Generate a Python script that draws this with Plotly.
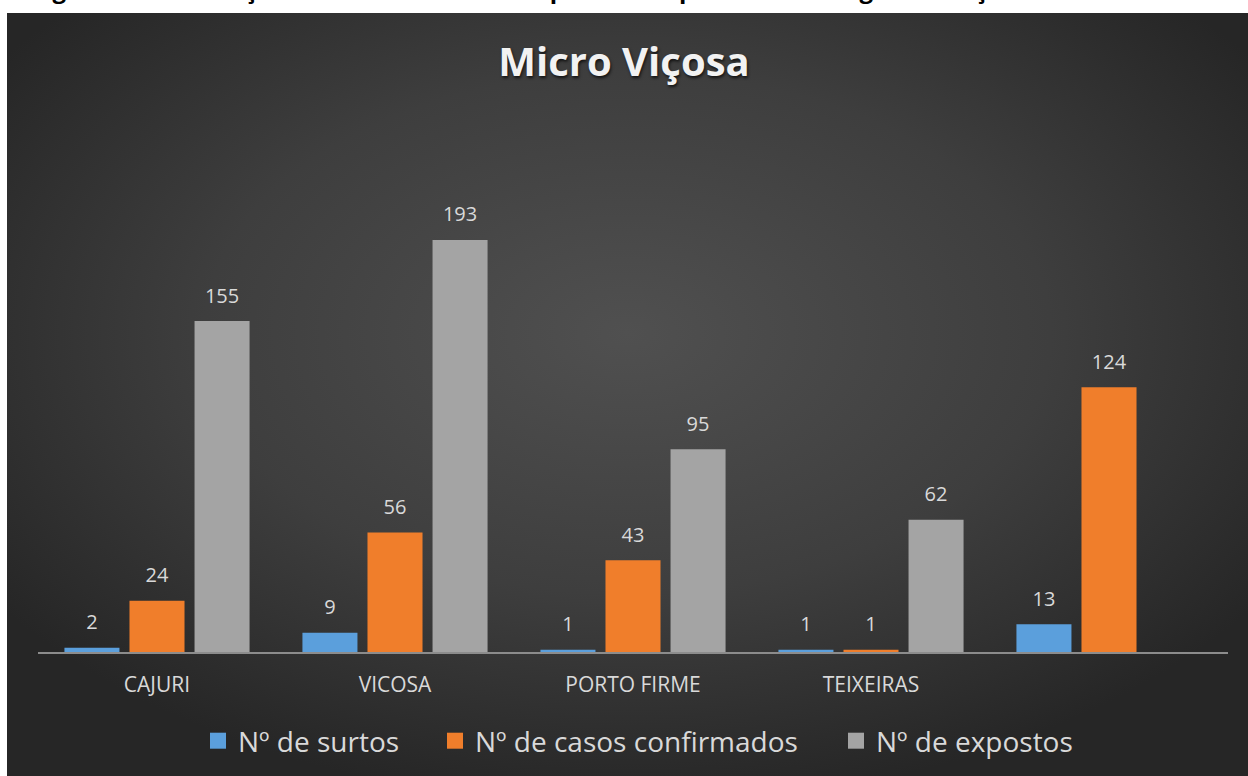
import base64
import plotly.graph_objects as go

# ---- data ----
categories = ["CAJURI", "VICOSA", "PORTO FIRME", "TEIXEIRAS", "TOTAL"]
tick_labels = ["CAJURI", "VICOSA", "PORTO FIRME", "TEIXEIRAS", ""]
surtos = [2, 9, 1, 1, 13]
casos = [24, 56, 43, 1, 124]
expostos = [155, 193, 95, 62, None]
series_names = ["Nº de surtos", "Nº de casos confirmados", "Nº de expostos"]

chart_title = "Micro Viçosa"
caption = "Figura 4: Distribuição de surtos notificados por município na micro região de Viçosa"

colors = ["#5b9fdc", "#f07e2b", "#a4a4a4"]
label_color = "#d9d9d9"

W, H = 1248, 776
L, R, T, B = 38, 20, 120, 124
plot_w = W - L - R
plot_h = H - T - B
y_max = 249.2

legend_ids = ["legend", "legend2", "legend3"]
legend_left_px = [198, 435, 836]

fig = go.Figure()

series = [surtos, casos, expostos]
for name, vals, col in zip(series_names, series, colors):
    fig.add_trace(go.Bar(
        x=categories, y=vals, name=name,
        marker=dict(color=col, line=dict(width=0)),
        hoverinfo="x+y+name", showlegend=False,
    ))

for name, vals, col in zip(series_names, series, colors):
    fig.add_trace(go.Scatter(
        x=categories, y=vals, mode="markers+text",
        text=[("" if v is None else str(v)) for v in vals],
        textposition="top center",
        textfont=dict(family="Open Sans", size=20, color=label_color),
        marker=dict(size=20, opacity=0, color=col),
        showlegend=False, hoverinfo="skip", cliponaxis=False,
    ))

# legend entries (bigger square swatches) on a hidden overlay axis
for name, col, lg in zip(series_names, colors, legend_ids):
    fig.add_trace(go.Scatter(
        x=[None], y=[None], mode="markers", name=name,
        marker=dict(symbol="square", size=16, color=col),
        xaxis="x2", yaxis="y2", showlegend=True, legend=lg,
    ))

# radial gradient background as svg image
svg = (
    '<svg xmlns="http://www.w3.org/2000/svg" width="1241" height="763" '
    'viewBox="0 0 1241 763" preserveAspectRatio="none">'
    '<defs><radialGradient id="g" cx="50%" cy="42%" r="62%">'
    '<stop offset="0" stop-color="rgb(80,80,80)"/>'
    '<stop offset="0.55" stop-color="rgb(62,62,62)"/>'
    '<stop offset="1" stop-color="rgb(38,38,38)"/>'
    '</radialGradient></defs>'
    '<rect width="1241" height="763" fill="url(#g)"/></svg>'
)
src = "data:image/svg+xml;base64," + base64.b64encode(svg.encode()).decode()

def px_to_paper_x(px):
    return (px - L) / plot_w

def px_to_paper_y(py):
    return (H - B - py) / plot_h

fig.add_layout_image(dict(
    source=src, xref="paper", yref="paper",
    x=px_to_paper_x(7), y=px_to_paper_y(13),
    sizex=px_to_paper_x(1248) - px_to_paper_x(7),
    sizey=px_to_paper_y(13) - px_to_paper_y(776),
    xanchor="left", yanchor="top", sizing="stretch", layer="below",
))

fig.add_annotation(
    text="<b>" + caption + "</b>", xref="paper", yref="paper",
    x=px_to_paper_x(30), y=px_to_paper_y(-11), xanchor="left", yanchor="middle",
    showarrow=False, font=dict(family="Open Sans", size=24, color="#000000"),
)

legend_common = dict(
    orientation="h", xanchor="left", xref="container",
    y=(H - 741) / H, yref="container", yanchor="middle",
    font=dict(family="Open Sans", size=28, color=label_color),
    bgcolor="rgba(0,0,0,0)", itemwidth=30, itemsizing="trace",
)
legends = {lg: dict(legend_common, x=px / W) for lg, px in zip(legend_ids, legend_left_px)}

fig.update_layout(
    width=W, height=H,
    margin=dict(l=L, r=R, t=T, b=B),
    paper_bgcolor="#ffffff", plot_bgcolor="rgba(0,0,0,0)",
    barmode="group", bargap=0.18, bargroupgap=0.154,
    scattermode="group", scattergap=0.18,
    title=dict(text=chart_title, x=0.5, xref="container", xanchor="center",
               y=1 - 62 / H, yref="container", yanchor="middle",
               font=dict(family="Open Sans", size=40, weight="bold", color="#f2f2f2",
                         shadow="1px 2px 3px rgba(0,0,0,0.7)")),
    xaxis=dict(type="category", categoryorder="array", categoryarray=categories,
               tickvals=categories, ticktext=tick_labels,
               showline=True, linecolor="#8c8c8c", linewidth=2,
               showgrid=False, zeroline=False, ticks="", ticklabelstandoff=13,
               tickfont=dict(family="Open Sans", size=21, color=label_color)),
    yaxis=dict(range=[0, y_max], visible=False, showgrid=False, zeroline=False),
    xaxis2=dict(overlaying="x", visible=False, range=[0, 1]),
    yaxis2=dict(overlaying="y", visible=False, range=[0, 1]),
    showlegend=True,
    **legends,
)

fig.write_html("out.html", config={"displayModeBar": False},
               post_script="document.body.style.margin='0px';")
